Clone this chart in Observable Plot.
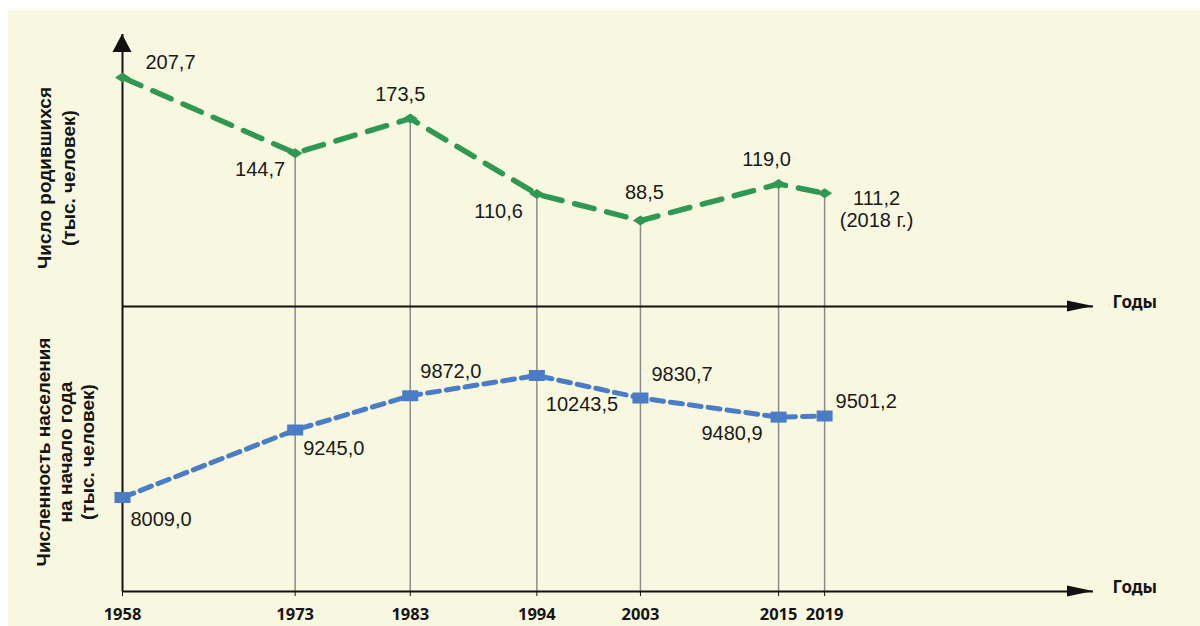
<!DOCTYPE html>
<html>
<head>
<meta charset="utf-8">
<script src="https://cdn.jsdelivr.net/npm/d3@7"></script>
<script src="https://cdn.jsdelivr.net/npm/@observablehq/plot@0.6"></script>
<style>
  html, body { margin: 0; padding: 0; background: #ffffff; }
  #wrap { position: relative; width: 1200px; height: 626px; overflow: hidden; background: #ffffff;
          font-family: "Liberation Sans", Arial, sans-serif; }
  #bg { position: absolute; left: 8px; top: 10px; right: 0; bottom: 0; background: #f8f8e0; }
  .panel { position: absolute; left: 0; }
  #bottom { top: 306px; z-index: 1; }
  #top { top: 0; z-index: 2; }
  .ylab { position: absolute; transform: translate(-50%, -50%) rotate(-90deg); white-space: nowrap;
          text-align: center; font-weight: bold; font-size: 19px; color: #151515; z-index: 3; }
  #bottom [aria-label^="x-axis"] text { font-weight: bold; font-size: 16.5px; fill: #151515; }
</style>
</head>
<body>
<div id="wrap">
  <div id="bg"></div>
  <div class="panel" id="bottom"></div>
  <div class="panel" id="top"></div>
  <div class="ylab" id="ylabTop" style="left:57px; top:178px; line-height:24px;"></div>
  <div class="ylab" id="ylabBottom" style="left:66px; top:452px; line-height:22px;"></div>
</div>
<script>
// ---- data ----
const years = [1958, 1973, 1983, 1994, 2003, 2015, 2019];
const births = [207.7, 144.7, 173.5, 110.6, 88.5, 119.0, 111.2];
const birthNotes = ["", "", "", "", "", "", "(2018 г.)"];
const population = [8009.0, 9245.0, 9872.0, 10243.5, 9830.7, 9480.9, 9501.2];
const birthsTitle = ["Число родившихся", "(тыс. человек)"];
const populationTitle = ["Численность населения", "на начало года", "(тыс. человек)"];
const axisName = "Годы";

// ---- helpers ----
const fmt = v => v.toFixed(1).replace(".", ",");
const green = "#2f9852";
const blue = "#4a7dc5";
const gridGray = "#8c8c8c";
const ink = "#111111";

const birthRows = years.map((year, i) => ({
  year, value: births[i],
  label: fmt(births[i]) + (birthNotes[i] ? "\n" + birthNotes[i] : "")
}));
const popRows = years.map((year, i) => ({ year, value: population[i], label: fmt(population[i]) }));

const xMin = 1958, xMax = 2042.36;
const W = 1200, ML = 122, MR = 107;

// label placement (code-side styling)
const birthLabelPos = {
  1958: { dx: 23, dy: -15, textAnchor: "start" },
  1973: { dx: -10, dy: 16, textAnchor: "end" },
  1983: { dx: -10, dy: -25, textAnchor: "middle" },
  1994: { dx: -14, dy: 17, textAnchor: "end" },
  2003: { dx: 4, dy: -29, textAnchor: "middle" },
  2015: { dx: -12, dy: -25, textAnchor: "middle" },
  2019: { dx: 52, dy: 16, textAnchor: "middle" }
};
const popLabelPos = {
  1958: { dx: 8, dy: 22, textAnchor: "start" },
  1973: { dx: 8, dy: 18, textAnchor: "start" },
  1983: { dx: 10, dy: -25, textAnchor: "start" },
  1994: { dx: 9, dy: 29, textAnchor: "start" },
  2003: { dx: 11, dy: -24, textAnchor: "start" },
  2015: { dx: -16, dy: 16, textAnchor: "end" },
  2019: { dx: 11, dy: -15, textAnchor: "start" }
};
const labelMarks = (rows, pos) => rows.map(r => Plot.text(rows, {
  filter: d => d.year === r.year,
  x: "year", y: "value", text: "label",
  fontSize: 20, fontWeight: "normal", fill: "#1a1a1a", lineHeight: 1.08,
  fontFamily: "Liberation Sans, Arial, sans-serif",
  ...pos[r.year]
}));

const diamondSym = { draw(ctx) { ctx.moveTo(0, -5); ctx.lineTo(7.5, 0); ctx.lineTo(0, 5); ctx.lineTo(-7.5, 0); ctx.closePath(); } };
const rectSym = { draw(ctx) { ctx.moveTo(-8, -5.5); ctx.lineTo(8, -5.5); ctx.lineTo(8, 5.5); ctx.lineTo(-8, 5.5); ctx.closePath(); } };

function arrowMark(vertical) {
  return (index, scales, values, dims) => {
    const g = d3.create("svg:g");
    const bx = dims.width - dims.marginRight, by = dims.height - dims.marginBottom;
    g.append("path").attr("d", `M${bx},${by} L${bx - 26},${by - 5.5} L${bx - 26},${by + 5.5} Z`).attr("fill", ink);
    if (vertical) {
      const tx = dims.marginLeft, ty = dims.marginTop;
      g.append("path").attr("d", `M${tx},${ty} L${tx + 9.5},${ty + 18} L${tx - 9.5},${ty + 18} Z`).attr("fill", ink);
    }
    return g.node();
  };
}

// ---- top panel: births ----
const yTopMin = 16.9, yTopMax = 243.6;
const topPlot = Plot.plot({
  width: W, height: 320, marginLeft: ML, marginRight: MR, marginTop: 34, marginBottom: 14,
  style: { background: "transparent", overflow: "visible", color: ink },
  x: { domain: [xMin, xMax], axis: null },
  y: { domain: [yTopMin, yTopMax], axis: null },
  marks: [
    Plot.ruleX(birthRows.filter(d => d.year !== xMin), { x: "year", y1: "value", y2: yTopMin, stroke: gridGray, strokeWidth: 1.5 }),
    Plot.ruleX([xMin], { stroke: ink, strokeWidth: 2 }),
    Plot.ruleY([yTopMin], { stroke: ink, strokeWidth: 2 }),
    Plot.line(birthRows, { x: "year", y: "value", stroke: green, strokeWidth: 5.5, strokeDasharray: "20 13" }),
    Plot.dot(birthRows, { x: "year", y: "value", symbol: diamondSym, r: 5, fill: green, stroke: "none" }),
    ...labelMarks(birthRows, birthLabelPos),
    Plot.text([axisName], { text: d => d, frameAnchor: "bottom-right", dx: 19, dy: 1, textAnchor: "start",
      fontWeight: "bold", fontSize: 17, fill: "#151515" }),
    arrowMark(true)
  ]
});
document.getElementById("top").appendChild(topPlot);

// ---- bottom panel: population ----
const yBotMin = 6287, yBotMax = 11507;
const bottomPlot = Plot.plot({
  width: W, height: 320, marginLeft: ML, marginRight: MR, marginTop: 0, marginBottom: 35,
  style: { background: "transparent", overflow: "visible", color: ink },
  x: { domain: [xMin, xMax], ticks: years, tickFormat: d => String(d), tickSize: 5, tickPadding: 12, label: null },
  y: { domain: [yBotMin, yBotMax], axis: null },
  marks: [
    Plot.ruleX(popRows.filter(d => d.year !== xMin), { x: "year", stroke: gridGray, strokeWidth: 1.5 }),
    Plot.ruleX([xMin], { stroke: ink, strokeWidth: 2 }),
    Plot.ruleY([yBotMin], { stroke: ink, strokeWidth: 2 }),
    Plot.line(popRows, { x: "year", y: "value", stroke: blue, strokeWidth: 5, strokeDasharray: "12 7" }),
    Plot.dot(popRows, { x: "year", y: "value", symbol: rectSym, r: 5, fill: blue, stroke: "none" }),
    ...labelMarks(popRows, popLabelPos),
    Plot.text([axisName], { text: d => d, frameAnchor: "bottom-right", dx: 19, dy: 1, textAnchor: "start",
      fontWeight: "bold", fontSize: 17, fill: "#151515" }),
    arrowMark(false)
  ]
});
document.getElementById("bottom").appendChild(bottomPlot);

// ---- rotated y titles ----
document.getElementById("ylabTop").innerHTML = birthsTitle.join("<br>");
document.getElementById("ylabBottom").innerHTML = populationTitle.join("<br>");
</script>
</body>
</html>
